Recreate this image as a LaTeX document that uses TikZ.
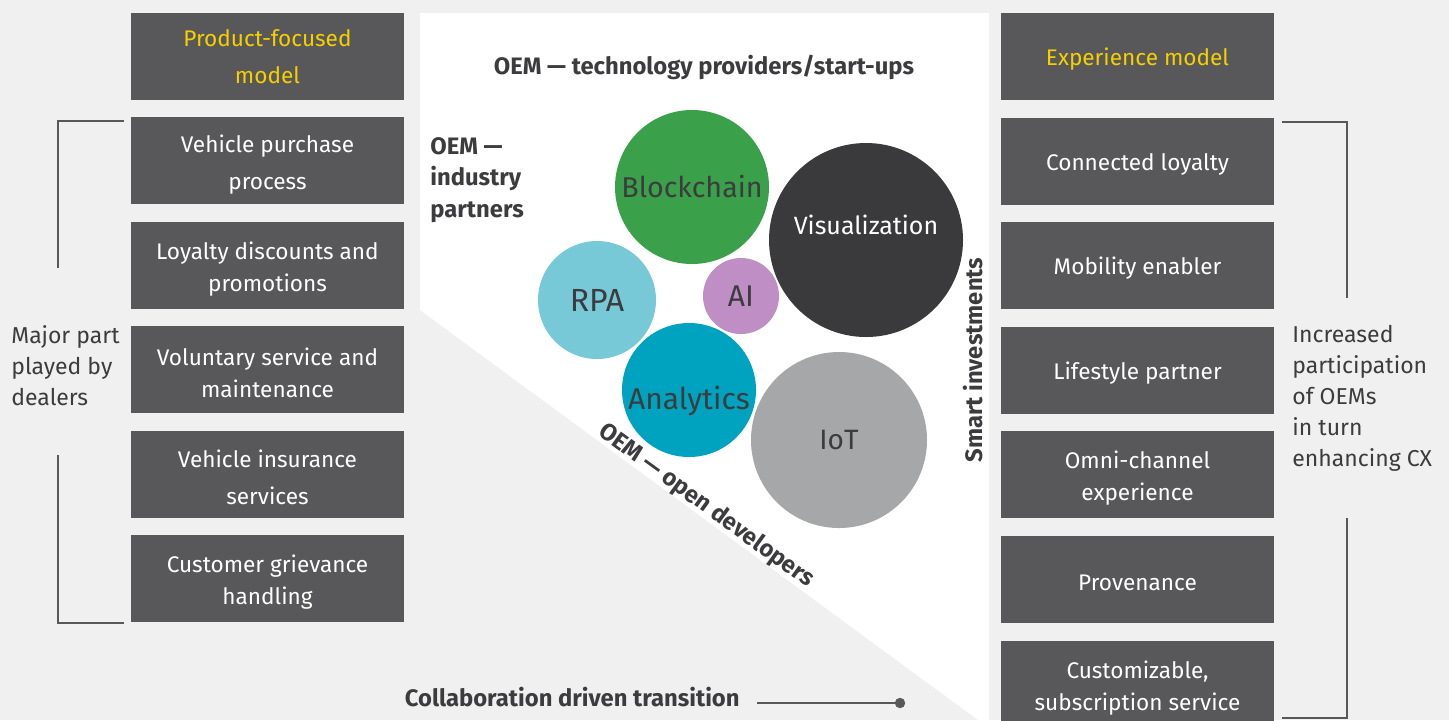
\documentclass[tikz,border=0pt]{standalone}
\usepackage{fontspec}
\setmainfont{Fira Sans}
\definecolor{bgc}{RGB}{240,240,240}
\definecolor{boxc}{RGB}{88,88,90}
\definecolor{headc}{RGB}{245,208,0}
\definecolor{txtc}{RGB}{60,60,62}
\definecolor{chainc}{RGB}{58,161,74}
\definecolor{visc}{RGB}{58,58,60}
\definecolor{rpac}{RGB}{120,201,216}
\definecolor{aic}{RGB}{191,142,196}
\definecolor{anac}{RGB}{0,163,191}
\definecolor{iotc}{RGB}{166,167,169}

\begin{document}
\begin{tikzpicture}[x=0.5pt, y=-0.5pt,
  card/.style={fill=boxc, text=white, minimum width=136.5pt, minimum height=43.5pt,
    align=center, inner sep=0pt, font=\fontsize{11.3}{16}\selectfont,
    execute at begin node={\rule{0pt}{11.8pt}}},
  bubble/.style={circle, inner sep=0pt, text=txtc},
  lbl/.style={text=txtc, font=\bfseries\fontsize{11.9}{15.75}\selectfont},
  side/.style={text=txtc, align=left, anchor=west, inner sep=0pt, font=\fontsize{11.5}{15.5}\selectfont},
  brk/.style={draw=boxc, line width=1pt}]
  \def\lift{\rule{0pt}{12.5pt}}
  % fondo y zona blanca central
  \fill[bgc] (0,0) rectangle (1449,720);
  \useasboundingbox (0,0) rectangle (1449,720);
  \fill[white] (420,13) -- (989,13) -- (989,720) -- (978,720) -- (420,310) -- cycle;
  % columna izquierda
  \node[card, text=headc] (lhead) at (267.5,56.5) {Product-focused\\[2.5pt]model};
  \node[card] (lbuy) at (267.5,160.5) {\lift Vehicle purchase\\[2.5pt]process};
  \node[card] (lloyal) at (267.5,265) {\lift Loyalty discounts and\\promotions};
  \node[card] (lserv) at (267.5,369) {\lift Voluntary service and\\maintenance};
  \node[card] (lins) at (267.5,474) {\lift Vehicle insurance\\[2.5pt]services};
  \node[card] (lgriev) at (267.5,578) {\lift Customer grievance\\handling};
  % columna derecha
  \node[card, text=headc] (rhead) at (1137.5,56.5) {Experience model};
  \node[card] (rloyal) at (1137.5,161.5) {Connected loyalty};
  \node[card] (rmob) at (1137.5,265) {Mobility enabler};
  \node[card] (rlife) at (1137.5,370) {Lifestyle partner};
  \node[card] (romni) at (1137.5,474) {\lift Omni-channel\\experience};
  \node[card] (rprov) at (1137.5,579) {Provenance};
  \node[card] (rcust) at (1137.5,684) {\lift Customizable,\\subscription service};
  % corchetes laterales
  \draw[brk] (124,121) -- (58,121) -- (58,268);
  \draw[brk] (58,455) -- (58,623) -- (124,623);
  \draw[brk] (1282,122) -- (1347,122) -- (1347,298);
  \draw[brk] (1347,518) -- (1347,718) -- (1282,718);
  \node[side] (dealers) at (11,366) {Major part\\played by\\dealers};
  \node[side] (oems) at (1292,398) {Increased\\participation\\of OEMs\\in turn\\enhancing CX};
  % burbujas de tecnologia
  \node[bubble, fill=chainc, minimum size=77pt, font=\fontsize{14.3}{16}\selectfont] (chain) at (692,187) {Blockchain};
  \node[bubble, fill=visc, text=white, minimum size=97pt, font=\fontsize{12.5}{15}\selectfont] (vis) at (866,240) {\raisebox{7.5pt}[\height][\depth]{Visualization}};
  \node[bubble, fill=rpac, minimum size=59pt, font=\fontsize{16}{18}\selectfont] (rpa) at (597,300) {RPA};
  \node[bubble, fill=aic, minimum size=38pt, font=\fontsize{15}{17}\selectfont] (ai) at (741,296) {AI};
  \node[bubble, fill=anac, minimum size=67pt, font=\fontsize{15}{17}\selectfont] (ana) at (689,390) {\raisebox{-5.5pt}[\height][\depth]{Analytics}};
  \node[bubble, fill=iotc, minimum size=88pt, font=\fontsize{14}{16}\selectfont] (iot) at (839,440) {IoT};
  % etiquetas del triangulo
  \node[lbl] (tech) at (704,67) {OEM \textemdash\ technology providers/start-ups};
  \node[lbl, align=left, anchor=west, inner sep=0pt] (indus) at (430,180) {OEM \textemdash\\industry\\partners};
  \node[lbl, rotate=90] (smart) at (973,360) {Smart investments};
  \node[lbl, rotate=-36] (open) at (706,506) {OEM \textemdash\ open developers};
  % transicion
  \node[lbl, anchor=east, inner sep=0pt] (collab) at (740,697) {Collaboration driven transition};
  \coordinate (tstart) at (757,703);
  \coordinate (tdot) at (900,703);
  \draw[boxc, line width=1.2pt] (tstart) -- (tdot);
  \fill[boxc] (tdot) circle (2.6pt);
\end{tikzpicture}
\end{document}
